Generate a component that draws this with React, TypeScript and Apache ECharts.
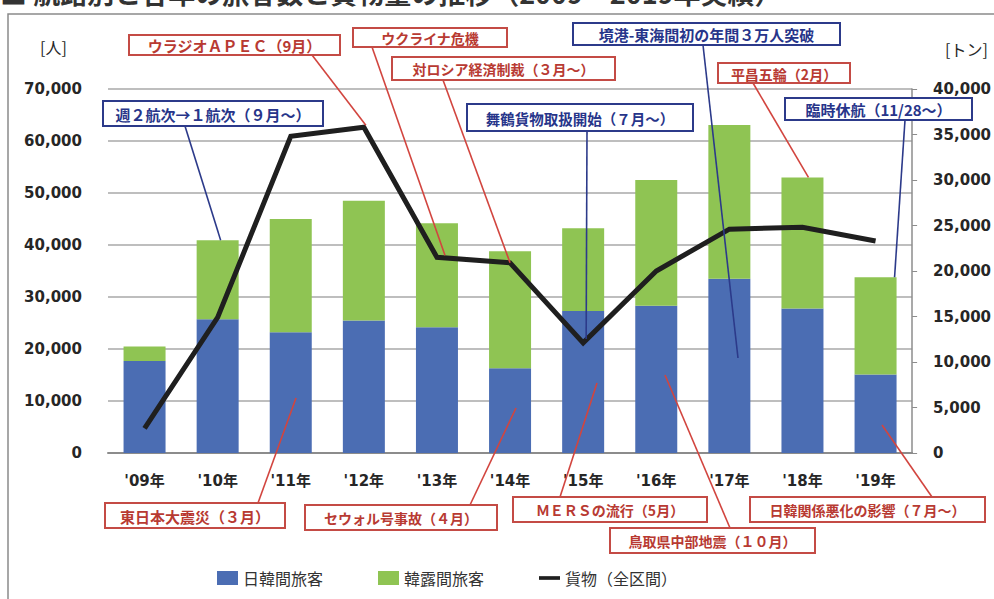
import React, { useEffect, useRef } from 'react';
import * as echarts from 'echarts';

// ---- data ----
const categories = ["'09年", "'10年", "'11年", "'12年", "'13年", "'14年", "'15年", "'16年", "'17年", "'18年", "'19年"];
const nikkanPassengers = [17700, 25700, 23200, 25500, 24200, 16300, 27300, 28300, 33500, 27800, 15100];
const kanroPassengers = [2800, 15200, 21800, 23000, 20000, 22500, 15900, 24200, 29600, 25200, 18700];
const cargoTons = [2700, 14900, 34800, 35800, 21500, 20900, 12100, 20000, 24600, 24800, 23300];
const seriesNames = ['日韓間旅客', '韓露間旅客', '貨物（全区間）'];
const leftAxisRange = [0, 70000, 10000];
const rightAxisRange = [0, 40000, 5000];
const leftUnit = '[人]';
const rightUnit = '[トン]';
const titleText = '■ 航路別と各年の旅客数と貨物量の推移（2009～2019年実績）';

type Anchor = { kind: 'line' | 'bar'; index: number; dx?: number; dy?: number };
type Anno = {
  text: string;
  tone: 'red' | 'blue';
  box: [number, number, number, number];
  fontSize: number;
  from: [number, number];
  to?: [number, number];
  anchor?: Anchor;
};

const annotations: Anno[] = [
  { text: 'ウラジオＡＰＥＣ（9月）', tone: 'red', box: [129, 35, 211, 20], fontSize: 15, from: [312, 55], anchor: { kind: 'line', index: 3, dx: 2, dy: -2 } },
  { text: 'ウクライナ危機', tone: 'red', box: [353, 28, 154, 19], fontSize: 14, from: [372, 47], anchor: { kind: 'line', index: 4, dx: 8, dy: -2 } },
  { text: '対ロシア経済制裁（３月～）', tone: 'red', box: [392, 57, 223, 23], fontSize: 14, from: [443, 80], anchor: { kind: 'line', index: 5 } },
  { text: '週２航次→１航次（９月～）', tone: 'blue', box: [103, 101, 220, 25], fontSize: 15, from: [185, 126], anchor: { kind: 'bar', index: 1, dx: 3 } },
  { text: '舞鶴貨物取扱開始（７月～）', tone: 'blue', box: [467, 104, 226, 27], fontSize: 14.5, from: [587, 131], anchor: { kind: 'line', index: 6, dx: 3, dy: -4 } },
  { text: '境港-東海間初の年間３万人突破', tone: 'blue', box: [573, 23, 267, 22], fontSize: 15, from: [703, 45], to: [738, 358] },
  { text: '平昌五輪（2月）', tone: 'red', box: [718, 63, 132, 20], fontSize: 14, from: [753, 83], anchor: { kind: 'bar', index: 9, dx: 6 } },
  { text: '臨時休航（11/28～）', tone: 'blue', box: [785, 98, 187, 22], fontSize: 15, from: [905, 120], anchor: { kind: 'bar', index: 10, dx: 19 } },
  { text: '東日本大震災（３月）', tone: 'red', box: [105, 503, 180, 25], fontSize: 15, from: [258, 503], to: [296, 398] },
  { text: 'セウォル号事故（４月）', tone: 'red', box: [305, 505, 192, 25], fontSize: 14, from: [470, 505], to: [516, 408] },
  { text: 'ＭＥＲＳの流行（5月）', tone: 'red', box: [513, 497, 194, 25], fontSize: 14, from: [560, 497], to: [597, 383] },
  { text: '鳥取県中部地震（１０月）', tone: 'red', box: [610, 528, 205, 25], fontSize: 14, from: [730, 528], to: [665, 375] },
  { text: '日韓関係悪化の影響（７月～）', tone: 'red', box: [750, 497, 235, 25], fontSize: 14, from: [932, 497], to: [882, 425] },
];

const palette = {
  blueBar: '#4b6db3',
  greenBar: '#8fc453',
  cargo: '#1f1f1f',
  grid: '#a9a9a9',
  axis: '#8c8c8c',
  label: '#262626',
  redStroke: '#c44b45',
  redText: '#b83a32',
  blueStroke: '#2c3a8a',
  blueText: '#27358a',
};

const numFmt = (v: number) => v.toLocaleString('en-US');

export default function App() {
  const ref = useRef<HTMLDivElement>(null);

  useEffect(() => {
    if (!ref.current) return;
    const chart = echarts.init(ref.current, null, { renderer: 'svg' });
    const axisFont = { fontFamily: 'DejaVu Sans, Noto Sans CJK JP', fontWeight: 'bold' as const, fontSize: 15, color: palette.label };

    chart.setOption({
      animation: false,
      backgroundColor: '#ffffff',
      grid: { left: 108, right: 78, top: 89, bottom: 146, containLabel: false },
      legend: {
        left: 212,
        top: 565,
        itemWidth: 21,
        itemHeight: 14,
        itemGap: 55,
        symbolKeepAspect: true,
        textStyle: { fontFamily: 'Noto Sans CJK JP', fontSize: 16, color: '#333' },
        data: [
          { name: seriesNames[0], icon: 'rect' },
          { name: seriesNames[1], icon: 'rect' },
          { name: seriesNames[2], icon: 'path://M0,0H24V4.2H0Z' },
        ],
      },
      xAxis: {
        type: 'category',
        data: categories,
        axisTick: { show: false },
        axisLine: { show: true, lineStyle: { color: palette.axis, width: 2 } },
        axisLabel: { ...axisFont, margin: 20 },
      },
      yAxis: [
        {
          type: 'value',
          min: leftAxisRange[0],
          max: leftAxisRange[1],
          interval: leftAxisRange[2],
          axisLine: { show: false },
          axisTick: { show: false },
          splitLine: { show: true, lineStyle: { color: palette.grid, width: 1.5 } },
          axisLabel: { ...axisFont, margin: 26, formatter: (v: number) => numFmt(v) },
        },
        {
          type: 'value',
          min: rightAxisRange[0],
          max: rightAxisRange[1],
          interval: rightAxisRange[2],
          position: 'right',
          axisLine: { show: true, lineStyle: { color: palette.axis, width: 1.5 } },
          axisTick: { show: true, length: 5, lineStyle: { color: palette.axis } },
          splitLine: { show: false },
          axisLabel: { ...axisFont, margin: 21, formatter: (v: number) => numFmt(v) },
        },
      ],
      series: [
        {
          name: seriesNames[0],
          type: 'bar',
          stack: 'passengers',
          barWidth: 42,
          itemStyle: { color: palette.blueBar },
          data: nikkanPassengers,
        },
        {
          name: seriesNames[1],
          type: 'bar',
          stack: 'passengers',
          barWidth: 42,
          itemStyle: { color: palette.greenBar },
          data: kanroPassengers,
        },
        {
          name: seriesNames[2],
          type: 'line',
          yAxisIndex: 1,
          symbol: 'none',
          z: 5,
          lineStyle: { color: palette.cargo, width: 5, join: 'miter' },
          itemStyle: { color: palette.cargo },
          data: cargoTons,
        },
      ],
    });

    const anchorPoint = (a: Anchor): [number, number] => {
      let p: number[];
      if (a.kind === 'line') {
        p = chart.convertToPixel({ xAxisIndex: 0, yAxisIndex: 1 }, [a.index, cargoTons[a.index]]) as number[];
      } else {
        const total = nikkanPassengers[a.index] + kanroPassengers[a.index];
        p = chart.convertToPixel({ xAxisIndex: 0, yAxisIndex: 0 }, [a.index, total]) as number[];
      }
      return [p[0] + (a.dx || 0), p[1] + (a.dy || 0)];
    };

    const elements: any[] = [];
    // outer frame
    elements.push({
      type: 'rect',
      shape: { x: 8, y: 14, width: 1000, height: 700 },
      style: { fill: 'none', stroke: '#8a8a8a', lineWidth: 1.5 },
      z: 1,
      silent: true,
    });
    // title, clipped at the top edge as in the reference scan
    elements.push({
      type: 'text',
      x: 0,
      y: -21,
      style: { text: titleText, fill: '#333', fontSize: 27, fontWeight: 'bold', fontFamily: 'Noto Sans CJK JP', align: 'left', verticalAlign: 'top', textAlign: 'left', textVerticalAlign: 'top' },
      z: 2,
    });
    elements.push({
      type: 'text',
      x: 40,
      y: 47,
      style: { text: leftUnit, fill: palette.label, fontSize: 16, fontFamily: 'Noto Sans CJK JP', align: 'left', verticalAlign: 'middle', textAlign: 'left', textVerticalAlign: 'middle' },
      z: 2,
    });
    elements.push({
      type: 'text',
      x: 945,
      y: 49,
      style: { text: rightUnit, fill: palette.label, fontSize: 16, fontFamily: 'Noto Sans CJK JP', align: 'left', verticalAlign: 'middle', textAlign: 'left', textVerticalAlign: 'middle' },
      z: 2,
    });

    annotations.forEach((a) => {
      const stroke = a.tone === 'red' ? palette.redStroke : palette.blueStroke;
      const textColor = a.tone === 'red' ? palette.redText : palette.blueText;
      const end = a.anchor ? anchorPoint(a.anchor) : (a.to as [number, number]);
      elements.push({
        type: 'line',
        shape: { x1: a.from[0], y1: a.from[1], x2: end[0], y2: end[1] },
        style: { stroke: a.tone === 'red' ? '#d2453f' : palette.blueStroke, lineWidth: 1.6 },
        z: 100,
      });
      const [x, y, w, h] = a.box;
      elements.push({
        type: 'rect',
        shape: { x, y, width: w, height: h },
        style: { fill: '#ffffff', stroke, lineWidth: 2 },
        z: 101,
      });
      elements.push({
        type: 'text',
        x: x + w / 2,
        y: y + h / 2 + 0.5,
        style: {
          text: a.text,
          fill: textColor,
          fontSize: a.fontSize,
          fontWeight: 'bold',
          fontFamily: 'Noto Sans CJK JP',
          align: 'center',
          verticalAlign: 'middle',
          textAlign: 'center',
          textVerticalAlign: 'middle',
        },
        z: 102,
      });
    });

    chart.setOption({ graphic: { elements } });

    return () => chart.dispose();
  }, []);

  return <div ref={ref} style={{ position: 'fixed', left: 0, top: 0, width: 994, height: 599, background: '#fff' }} />;
}
